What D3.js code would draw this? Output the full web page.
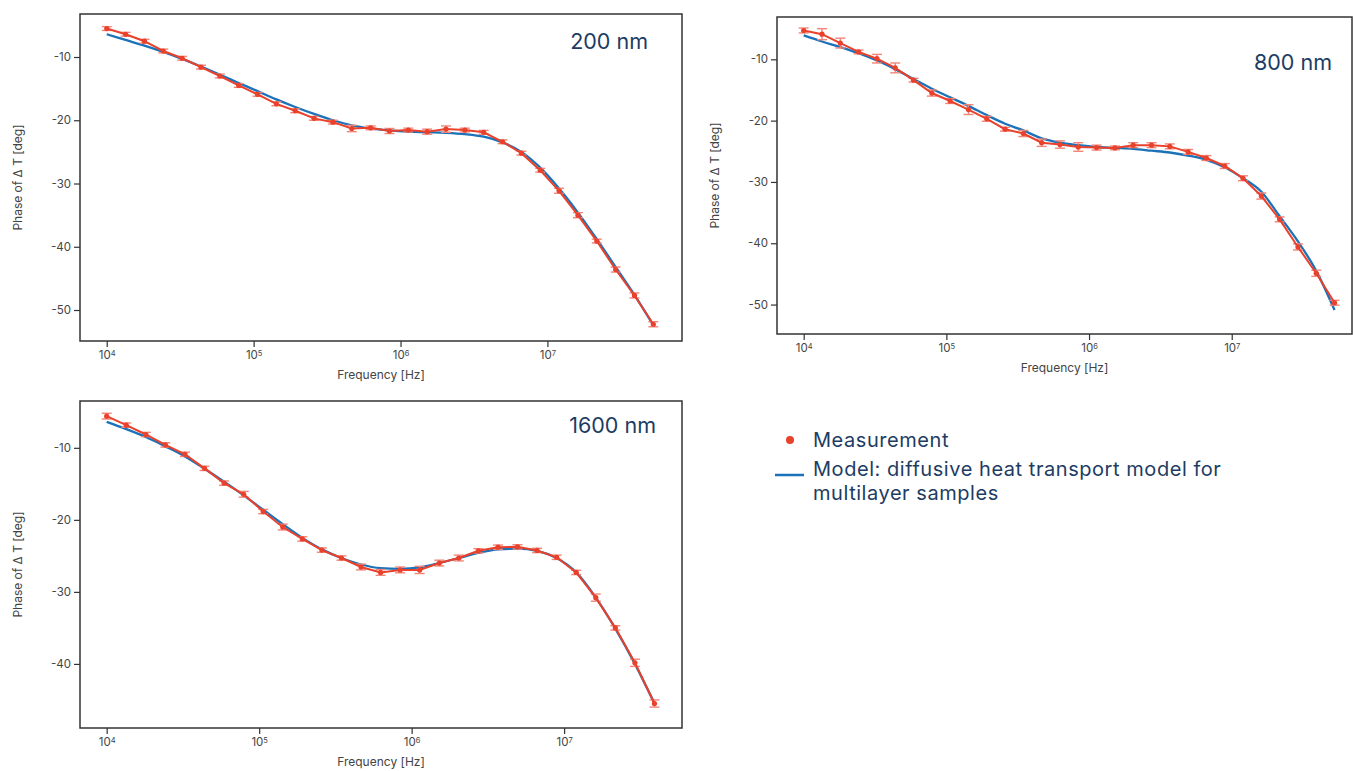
<!DOCTYPE html>
<html><head><meta charset="utf-8">
<script src="https://cdn.jsdelivr.net/npm/d3@7"></script>
<style>
body{margin:0;background:#fff;}
svg{display:block;font-family:Inter,"Noto Sans",sans-serif;}
</style></head>
<body><svg id="c" width="1353" height="771"></svg>
<script>
const freq = [1.000e4,1.344e4,1.806e4,2.426e4,3.261e4,4.381e4,5.888e4,7.910e4,1.063e5,1.428e5,
  1.919e5,2.578e5,3.464e5,4.655e5,6.255e5,8.405e5,1.129e6,1.518e6,2.039e6,2.740e6,
  3.681e6,4.947e6,6.646e6,8.931e6,1.200e7,1.613e7,2.167e7,2.912e7,3.912e7,5.257e7];

// 200 nm
const meas200 = [-5.5,-6.4,-7.5,-9.05,-10.2,-11.6,-13.0,-14.5,-15.9,-17.4,-18.5,-19.7,-20.3,-21.3,-21.2,
  -21.7,-21.55,-21.8,-21.4,-21.55,-21.9,-23.4,-25.2,-27.9,-31.15,-35.0,-39.1,-43.6,-47.7,-52.25];
const err200 = [0.3,0.3,0.3,0.3,0.3,0.3,0.3,0.3,0.3,0.3,0.3,0.3,0.3,0.5,0.3,0.4,0.3,0.4,0.5,0.3,
  0.3,0.3,0.3,0.3,0.4,0.4,0.3,0.4,0.4,0.4];
const model200 = [-6.4,-7.3,-8.2,-9.2,-10.3,-11.5,-12.8,-14.1,-15.4,-16.7,-17.9,-19.0,-20.0,-20.8,-21.3,
  -21.6,-21.8,-21.9,-22.0,-22.2,-22.6,-23.5,-25.0,-27.5,-30.8,-34.6,-38.8,-43.2,-47.6,-52.4];

// 800 nm
const meas800 = [-5.3,-5.9,-7.35,-8.8,-9.9,-11.4,-13.4,-15.5,-16.8,-18.2,-19.7,-21.4,-22.1,-23.6,-23.9,
  -24.3,-24.4,-24.45,-24.0,-24.0,-24.2,-25.1,-26.1,-27.4,-29.4,-32.3,-36.1,-40.6,-44.9,-49.7];
const err800 = [0.4,0.9,0.8,0.3,0.7,0.8,0.3,0.5,0.4,0.8,0.4,0.3,0.5,0.6,0.6,0.7,0.4,0.3,0.4,0.4,
  0.4,0.4,0.4,0.4,0.4,0.5,0.4,0.5,0.5,0.4];
const model800 = [-6.1,-7.1,-8.0,-9.0,-10.2,-11.6,-13.2,-14.8,-16.2,-17.6,-19.1,-20.5,-21.6,-22.9,-23.6,
  -24.0,-24.3,-24.45,-24.6,-24.9,-25.2,-25.7,-26.4,-27.6,-29.4,-31.6,-35.6,-39.7,-44.5,-50.9];

// 1600 nm (29 points)
const meas1600 = [-5.6,-6.85,-8.15,-9.6,-10.9,-12.85,-14.9,-16.45,-18.85,-21.0,-22.65,-24.2,-25.3,-26.55,-27.3,
  -26.95,-26.95,-26.0,-25.3,-24.3,-23.8,-23.75,-24.25,-25.2,-27.3,-30.8,-35.0,-39.85,-45.5];
const err1600 = [0.4,0.3,0.3,0.3,0.3,0.3,0.3,0.4,0.3,0.4,0.3,0.3,0.3,0.4,0.4,0.4,0.5,0.4,0.4,0.3,
  0.3,0.3,0.3,0.3,0.3,0.5,0.3,0.5,0.5];
const model1600 = [-6.4,-7.4,-8.5,-9.8,-11.2,-12.9,-14.7,-16.6,-18.6,-20.6,-22.5,-24.1,-25.3,-26.2,-26.7,
  -26.8,-26.6,-26.0,-25.3,-24.6,-24.1,-24.0,-24.3,-25.3,-27.3,-30.8,-35.1,-40.0,-45.5];

const panelLabels = ["200 nm","800 nm","1600 nm"];
const yTicks200 = [-10,-20,-30,-40,-50];
const yTicks800 = [-10,-20,-30,-40,-50];
const yTicks1600 = [-10,-20,-30,-40];
const xTickExps = [4,5,6,7];
const legendLabels = ["Measurement","Model: diffusive heat transport model for","multilayer samples"];
const xTitle = "Frequency [Hz]";
const yTitle = "Phase of \u0394 T [deg]";

const RED = "#e9412b", ERR = "#f0867a", BLUE = "#1b72b8", NAVY = "#1d3c63", AX = "#333", TXT = "#444";

const svg = d3.select("#c");

function panel(cfg){
  const {l,t,r,b,xd,yd,meas,err,model,yTicks,label,lx,ly} = cfg;
  const n = meas.length;
  const f = freq.slice(0,n);
  const x = d3.scaleLog().domain(xd).range([l,r]);
  const y = d3.scaleLinear().domain(yd).range([b,t]);
  const g = svg.append("g");

  // axes
  const yAx = g.append("g").attr("transform",`translate(${l},0)`)
    .call(d3.axisLeft(y).tickValues(yTicks).tickSize(6).tickPadding(3).tickFormat(d=>String(d)));
  yAx.select(".domain").remove();
  yAx.selectAll("line").attr("stroke",AX).attr("stroke-width",1.2);
  yAx.selectAll("text").attr("fill",TXT).style("font-size","11.5px").style("font-family","Inter,sans-serif");

  const xAx = g.append("g").attr("transform",`translate(0,${b})`)
    .call(d3.axisBottom(x).tickValues(xTickExps.map(e=>Math.pow(10,e))).tickSize(6).tickPadding(4).tickFormat(()=>""));
  xAx.select(".domain").remove();
  xAx.selectAll("line").attr("stroke",AX).attr("stroke-width",1.2);
  xAx.selectAll(".tick").each(function(d,i){
    const tx = d3.select(this).select("text");
    tx.text(null).attr("fill",TXT).style("font-size","11.5px").style("font-family","Inter,sans-serif");
    tx.append("tspan").text("10");
    tx.append("tspan").text(String(xTickExps[i])).attr("dy","-0.45em").style("font-size","7.5px");
  });

  // frame
  g.append("rect").attr("x",l).attr("y",t).attr("width",r-l).attr("height",b-t)
    .attr("fill","none").attr("stroke",AX).attr("stroke-width",1.5);

  // titles
  g.append("text").attr("x",(l+r)/2).attr("y",b+38).attr("text-anchor","middle")
    .attr("fill",TXT).style("font-size","12px").text(xTitle);
  g.append("text").attr("transform",`translate(${l-58},${(t+b)/2}) rotate(-90)`)
    .attr("text-anchor","middle").attr("fill",TXT).style("font-size","12px").text(yTitle);

  // model
  g.append("path").datum(d3.range(model.length))
    .attr("d",d3.line().x(i=>x(f[i])).y(i=>y(model[i])).curve(d3.curveMonotoneX))
    .attr("fill","none").attr("stroke",BLUE).attr("stroke-width",2.3);

  // error bars
  const eb = g.append("g").attr("stroke",ERR).attr("stroke-width",1.4);
  d3.range(n).forEach(i=>{
    const cx = x(f[i]), y1 = y(meas[i]+err[i]), y2 = y(meas[i]-err[i]);
    eb.append("line").attr("x1",cx).attr("x2",cx).attr("y1",y1).attr("y2",y2);
    eb.append("line").attr("x1",cx-5).attr("x2",cx+5).attr("y1",y1).attr("y2",y1);
    eb.append("line").attr("x1",cx-5).attr("x2",cx+5).attr("y1",y2).attr("y2",y2);
  });

  // measurement line + points
  g.append("path").datum(d3.range(n))
    .attr("d",d3.line().x(i=>x(f[i])).y(i=>y(meas[i])))
    .attr("fill","none").attr("stroke",RED).attr("stroke-width",2);
  g.selectAll(null).data(d3.range(n)).enter().append("circle")
    .attr("cx",i=>x(f[i])).attr("cy",i=>y(meas[i])).attr("r",2.6).attr("fill",RED);

  g.append("text").attr("x",lx).attr("y",ly).attr("text-anchor","end")
    .attr("fill",NAVY).style("font-size","21.5px").text(label);
}

panel({l:80,t:14,r:682,b:341,xd:[Math.pow(10,3.818),Math.pow(10,7.916)],yd:[-54.9,-3.2],
  meas:meas200,err:err200,model:model200,yTicks:yTicks200,label:panelLabels[0],lx:648,ly:49});
panel({l:777,t:17,r:1352,b:334,xd:[Math.pow(10,3.813),Math.pow(10,7.843)],yd:[-54.8,-3.1],
  meas:meas800,err:err800,model:model800,yTicks:yTicks800,label:panelLabels[1],lx:1332,ly:70});
panel({l:80,t:401,r:682,b:728,xd:[Math.pow(10,3.825),Math.pow(10,7.773)],yd:[-48.9,-3.5],
  meas:meas1600,err:err1600,model:model1600,yTicks:yTicks1600,label:panelLabels[2],lx:656,ly:433});

// legend
const lg = svg.append("g");
lg.append("circle").attr("cx",790).attr("cy",440).attr("r",4).attr("fill",RED);
lg.append("line").attr("x1",775).attr("x2",804).attr("y1",475).attr("y2",475).attr("stroke",BLUE).attr("stroke-width",2.5);
lg.append("text").attr("x",813).attr("y",447).attr("fill",NAVY)
  .style("font-size","20px").style("letter-spacing","0.55px").text(legendLabels[0]);
lg.append("text").attr("x",813).attr("y",476).attr("fill",NAVY)
  .style("font-size","20px").style("letter-spacing","0.55px").text(legendLabels[1]);
lg.append("text").attr("x",813).attr("y",500).attr("fill",NAVY)
  .style("font-size","20px").style("letter-spacing","0.55px").text(legendLabels[2]);
</script></body></html>
